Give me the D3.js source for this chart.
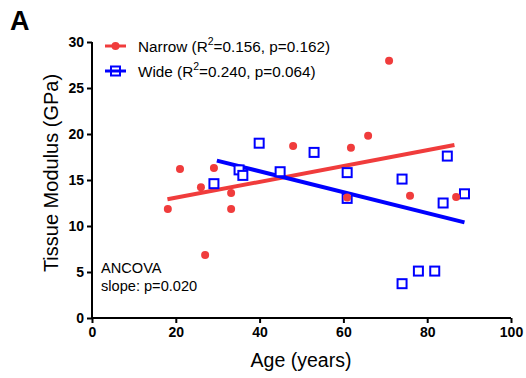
<!DOCTYPE html>
<html><head><meta charset="utf-8">
<script src="https://cdn.jsdelivr.net/npm/d3@7"></script>
<style>body{margin:0;background:#fff}svg{display:block}</style>
</head><body>
<svg id="c" width="526" height="378"></svg>
<script>
const narrowAge = [18.1,21.0,26.0,27.0,29.1,33.2,33.2,48.0,60.9,61.8,65.9,70.9,75.9,86.9];
const narrowMod = [11.85,16.2,14.2,6.85,16.3,13.6,11.85,18.7,13.1,18.5,19.8,27.97,13.3,13.15];
const wideAge = [29.1,35.1,36.0,39.9,44.9,53.0,60.9,60.9,74.0,74.0,77.9,81.8,83.8,84.8,88.9];
const wideMod = [14.6,16.1,15.5,19.0,15.9,18.0,15.8,13.0,15.1,3.73,5.1,5.1,12.5,17.6,13.5];
const narrowFitX = [18, 86.5], narrowFitY = [12.9, 18.8];
const wideFitX = [29.8, 88.9], wideFitY = [17.1, 10.4];
const xTicks = [0,20,40,60,80,100];
const yTicks = [0,5,10,15,20,25,30];
const legendLabels = ["Narrow", "Wide"];
const legendStats = [["0.156","0.162"],["0.240","0.064"]];

const red = "#f03c3c", blue = "#0000ff";
const FF = "Liberation Sans, Arial, sans-serif";
const svg = d3.select("#c");
const x = d3.scaleLinear().domain([0,100]).range([92,511]);
const y = d3.scaleLinear().domain([0,30]).range([318,42]);

const xa = svg.append("g").attr("transform","translate(0,318)")
  .call(d3.axisBottom(x).tickValues(xTicks).tickSize(5).tickSizeOuter(0).tickPadding(4));
const ya = svg.append("g").attr("transform","translate(92,0)")
  .call(d3.axisLeft(y).tickValues(yTicks).tickSize(5).tickSizeOuter(0).tickPadding(3));
[xa,ya].forEach(a=>{
  a.selectAll("path,line").attr("stroke","#000").attr("stroke-width",2);
  a.selectAll("text").attr("font-family",FF)
   .attr("font-weight","bold").attr("font-size",14).attr("fill","#000");
});
xa.select(".domain").attr("d","M92,0H511");
ya.select(".domain").attr("d","M0,318V42");

svg.append("text").attr("x",10).attr("y",30).text("A")
  .attr("font-family",FF).attr("font-weight","bold").attr("font-size",27);
svg.append("text").attr("x",301).attr("y",367).attr("text-anchor","middle").text("Age (years)")
  .attr("font-family",FF).attr("font-size",19.5);
svg.append("text").attr("transform","translate(58,173) rotate(-90)").attr("text-anchor","middle")
  .text("Tissue Modulus (GPa)")
  .attr("font-family",FF).attr("font-size",20);

// fit lines
const line = d3.line().x(d=>x(d[0])).y(d=>y(d[1]));
svg.append("path").attr("d",line(d3.zip(narrowFitX,narrowFitY))).attr("stroke",red).attr("stroke-width",4).attr("fill","none");
svg.append("path").attr("d",line(d3.zip(wideFitX,wideFitY))).attr("stroke",blue).attr("stroke-width",4).attr("fill","none");

// points
const sq = 9;
svg.append("g").selectAll("rect").data(d3.zip(wideAge,wideMod)).join("rect")
  .attr("x",d=>x(d[0])-sq/2).attr("y",d=>y(d[1])-sq/2).attr("width",sq).attr("height",sq)
  .attr("fill","#fff").attr("stroke",blue).attr("stroke-width",2);
svg.append("g").selectAll("circle").data(d3.zip(narrowAge,narrowMod)).join("circle")
  .attr("cx",d=>x(d[0])).attr("cy",d=>y(d[1])).attr("r",4).attr("fill",red);

// legend
const lg = svg.append("g").attr("font-family",FF).attr("font-size",15.3);
legendLabels.forEach((lab,i)=>{
  const cy = 46 + i*25;
  const col = i===0?red:blue;
  lg.append("line").attr("x1",105).attr("x2",126).attr("y1",cy).attr("y2",cy).attr("stroke",col).attr("stroke-width",3);
  if(i===0) lg.append("circle").attr("cx",115.5).attr("cy",cy).attr("r",4).attr("fill",col);
  else lg.append("rect").attr("x",111).attr("y",cy-4.5).attr("width",9).attr("height",9).attr("fill","none").attr("stroke",col).attr("stroke-width",2);
  const t = lg.append("text").attr("x",138).attr("y",cy+5.5);
  t.append("tspan").text(lab+" (R");
  t.append("tspan").text("2").attr("font-size",10.5).attr("dy",-6.5);
  t.append("tspan").text("=" + legendStats[i][0] + ", p=" + legendStats[i][1] + ")").attr("dy",6.5);
});

const an = svg.append("g").attr("font-family",FF).attr("font-size",14.6);
an.append("text").attr("x",101).attr("y",273).text("ANCOVA");
an.append("text").attr("x",101).attr("y",291).text("slope: p=0.020");
</script>
</body></html>
